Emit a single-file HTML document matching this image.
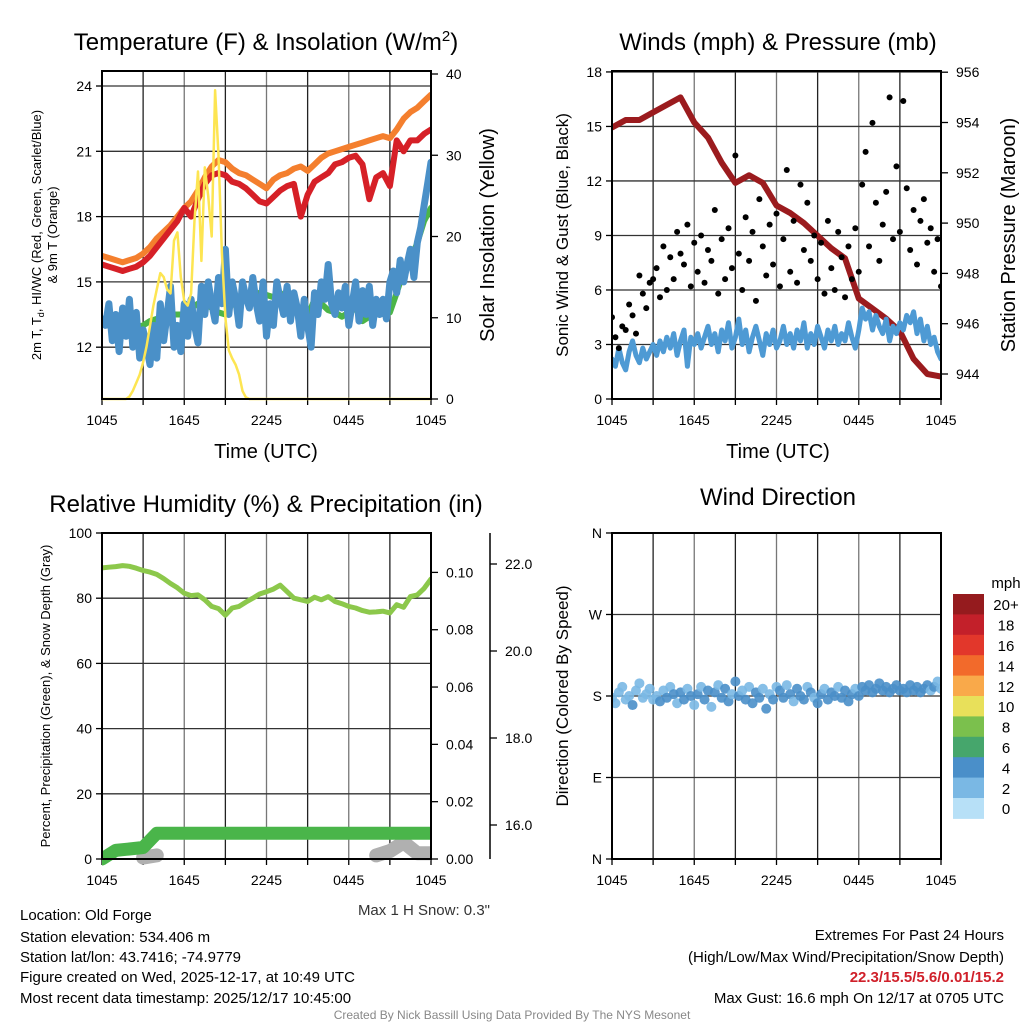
<!DOCTYPE html>
<html><head><meta charset="utf-8"><style>
html,body{margin:0;padding:0;background:#fff;}
svg{display:block;font-family:"Liberation Sans",sans-serif;}
</style></head><body>
<svg id="c" width="1024" height="1024" viewBox="0 0 1024 1024" xmlns="http://www.w3.org/2000/svg">
<defs>
<clipPath id="cp1"><rect x="102" y="71" width="329" height="331"/></clipPath>
<clipPath id="cp2"><rect x="612" y="71" width="329" height="328"/></clipPath>
<clipPath id="cp3"><rect x="102" y="533" width="329" height="336"/></clipPath>
<clipPath id="cp4"><rect x="612" y="533" width="329" height="326"/></clipPath>
</defs>
<g font-size="24" text-anchor="middle" fill="#000">
<text x="266" y="50">Temperature (F) &amp; Insolation (W/m<tspan dy="-9" font-size="15">2</tspan><tspan dy="9">)</tspan></text>
<text x="778" y="50">Winds (mph) &amp; Pressure (mb)</text>
<text x="266" y="512">Relative Humidity (%) &amp; Precipitation (in)</text>
<text x="778" y="505">Wind Direction</text>
</g>
<g font-size="20" text-anchor="middle">
<text x="266" y="458">Time (UTC)</text>
<text x="778" y="458">Time (UTC)</text>
<text transform="translate(494,235) rotate(-90)">Solar Insolation (Yellow)</text>
<text transform="translate(1015,235) rotate(-90)">Station Pressure (Maroon)</text>
</g>
<g font-size="13" text-anchor="middle">
<text transform="translate(41,235) rotate(-90)">2m T, T<tspan dy="3" font-size="9">d</tspan><tspan dy="-3">, HI/WC (Red, Green, Scarlet/Blue)</tspan></text>
<text transform="translate(57,235) rotate(-90)">&amp; 9m T (Orange)</text>
<text transform="translate(50,696) rotate(-90)">Percent, Precipitation (Green), &amp; Snow Depth (Gray)</text>
</g>
<g font-size="17" text-anchor="middle">
<text transform="translate(568,235) rotate(-90)">Sonic Wind &amp; Gust (Blue, Black)</text>
<text transform="translate(568,696) rotate(-90)">Direction (Colored By Speed)</text>
</g>
<g id="layer"></g>
<g font-size="15" fill="#000">
<text x="490" y="915" text-anchor="end" fill="#333">Max 1 H Snow: 0.3"</text>
<text x="20" y="920">Location: Old Forge</text>
<text x="20" y="942">Station elevation: 534.406 m</text>
<text x="20" y="962">Station lat/lon: 43.7416; -74.9779</text>
<text x="20" y="982">Figure created on Wed, 2025-12-17, at 10:49 UTC</text>
<text x="20" y="1003">Most recent data timestamp: 2025/12/17 10:45:00</text>
<text x="1004" y="940" text-anchor="end">Extremes For Past 24 Hours</text>
<text x="1004" y="962" text-anchor="end">(High/Low/Max Wind/Precipitation/Snow Depth)</text>
<text x="1004" y="982" text-anchor="end" fill="#d0202a" font-weight="bold">22.3/15.5/5.6/0.01/15.2</text>
<text x="1004" y="1003" text-anchor="end">Max Gust: 16.6 mph On 12/17 at 0705 UTC</text>
<text x="512" y="1019" text-anchor="middle" font-size="12" fill="#888">Created By Nick Bassill Using Data Provided By The NYS Mesonet</text>
</g>
</svg>
<script>
// ---- data ----
const xTickLabels = ["1045","1645","2245","0445","1045"];
const temp9m = [16.2,16.1,16.0,15.9,16.0,16.1,16.3,16.6,17.0,17.3,17.6,18.0,18.4,18.7,19.2,19.8,20.3,20.6,20.5,20.2,20.0,19.9,19.7,19.5,19.3,19.7,19.9,20.0,20.2,20.3,20.1,20.4,20.7,20.9,21.0,21.1,21.2,21.3,21.4,21.5,21.6,21.7,21.6,22.0,22.5,22.8,23.0,23.3,23.6];
const temp2m = [15.8,15.7,15.6,15.5,15.6,15.7,15.9,16.2,16.6,17.0,17.4,17.8,18.4,18.0,18.8,19.5,19.9,20.0,19.9,19.6,19.5,19.3,19.0,18.7,18.6,18.9,19.2,19.4,19.5,18.0,19.0,19.6,19.8,20.0,20.4,20.5,20.7,20.8,20.4,18.8,19.8,20.0,19.4,21.5,21.0,21.5,21.5,21.8,22.0];
const dewPoint = [13.3,13.2,13.1,13.0,13.0,12.9,13.0,13.2,13.3,13.4,13.5,13.5,13.5,13.8,14.0,14.0,13.8,13.6,13.5,14.0,14.2,14.3,14.2,14.5,14.4,14.3,14.5,14.2,14.0,13.5,13.4,14.2,14.0,13.7,13.6,13.4,13.6,13.8,13.2,13.4,13.5,13.7,13.6,14.5,15.5,16.0,16.8,17.8,18.4];
const windChill = [13.3,13.0,14.0,12.3,13.5,11.8,13.8,12.5,14.2,12.0,13.6,11.5,12.8,
 12.0,11.2,13.0,11.5,14.0,12.3,13.5,14.8,12.0,13.0,11.8,14.0,
 12.5,14.2,13.0,12.2,14.8,13.5,15.0,14.0,13.2,15.2,14.0,16.5,
 13.5,15.0,14.2,13.0,15.0,14.3,13.8,15.2,14.0,13.2,15.0,12.5,
 14.0,13.0,15.0,14.2,13.5,14.8,13.2,14.5,13.8,12.5,14.2,13.0,
 12.0,14.5,13.5,15.0,14.2,15.8,14.0,13.5,14.5,13.8,14.8,13.0,
 14.0,15.0,13.2,14.6,13.5,14.8,13.0,14.2,13.5,14.2,13.3,15.0,
 15.5,14.5,16.0,15.0,15.8,16.5,15.2,16.8,17.5,18.5,19.5,20.5];
const insolation = [0,0,0,0,0,0,0,0,0.3,1,2,3,4.5,6.5,9,11.5,13.5,15.5,15,13.5,13,19.5,20.5,15,12,11.5,13,22,28,17,28.5,25,20,38,30,18,10,6,5,4.2,3,1,0.2,
 0,0,0,0,0,0,0,0,0,0,0,0,0,0,0,0,0,0,0,0,0,0,0,0,0,0,0,0,0,0,0,0,0,0,0,0,0,0,0,0,0,0,0,0,0,0,0,0,0,0,0,0,0,0,0];
const pressure = [953.8,954.1,954.1,954.4,954.7,955.0,954.0,953.4,952.4,951.6,951.9,951.6,950.7,950.4,950.0,949.5,949.0,948.6,947.0,946.6,946.2,945.7,944.6,944.0,943.9];
const windSpeed = [2.2,1.8,2.8,2.0,1.6,2.6,3.2,2.4,2.0,2.8,2.2,2.6,3.0,
 2.4,3.2,2.6,3.4,2.8,3.6,2.4,3.2,3.8,1.8,3.4,3.0,
 3.6,2.8,3.4,4.0,3.0,3.6,2.6,3.8,3.2,4.2,2.8,3.4,
 4.4,3.0,3.8,2.6,3.4,4.0,3.2,2.4,3.6,3.0,3.8,2.8,
 3.2,4.0,3.0,3.6,2.8,3.8,3.2,4.2,2.8,3.6,3.0,4.0,
 3.4,2.8,3.8,3.2,4.0,3.0,3.6,3.2,4.2,3.4,2.8,3.8,
 5.0,4.4,4.8,3.8,4.6,4.0,3.6,4.4,3.2,4.0,3.6,4.2,
 3.8,4.6,4.2,4.8,3.6,4.4,3.2,4.0,3.0,3.4,2.6,2.2];
const windGust = [4.5,3.4,2.8,4.0,3.8,5.2,4.6,3.6,6.8,5.8,5.0,6.4,6.6,
 7.2,5.6,8.4,6.0,7.8,6.6,9.2,8.0,7.4,9.6,6.2,8.6,
 7.0,9.0,6.4,8.2,7.6,10.4,5.8,8.8,6.6,9.4,7.2,13.4,
 8.0,6.0,10.0,7.6,9.2,5.4,11.0,8.4,6.8,9.6,7.4,10.2,
 6.2,8.8,12.6,7.0,9.8,6.4,11.8,8.2,10.8,7.6,9.0,6.6,
 8.6,5.8,9.8,7.2,6.0,9.2,7.8,5.6,8.4,6.6,9.4,7.0,
 11.8,13.6,8.4,15.2,10.8,7.6,9.6,11.4,16.6,8.8,12.8,9.2,
 16.4,11.6,8.2,10.4,7.4,9.8,11.0,8.6,9.4,7.0,8.8,6.2];
const humidity = [89.3,89.5,89.7,90.0,89.8,89.2,88.5,88.0,87.3,86.0,84.5,83.2,81.5,80.8,81.0,79.5,77.5,76.8,74.8,77.0,77.5,78.8,80.0,81.3,82.0,82.8,84.0,82.0,80.0,79.5,79.0,80.3,79.5,80.5,79.0,78.3,77.5,77.0,76.2,75.7,75.8,76.0,75.5,78.0,77.2,80.5,81.0,83.0,85.9];
const precipitation = [0,0.003,0.0035,0.004,0.009,0.009,0.009,0.009,0.009,0.009,0.009,0.009,0.009,0.009,0.009,0.009,0.009,0.009,0.009,0.009,0.009,0.009,0.009,0.009,0.009];
const snowDepth = [null,null,null,15.25,15.3,null,null,null,null,null,null,null,null,null,null,null,null,null,null,null,15.3,15.4,15.6,15.35,15.35];
const windDirection = [178,172,184,190,176,180,170,186,194,178,182,188,176,
 180,174,186,178,190,182,172,184,176,188,180,170,
 182,190,176,186,168,184,192,178,188,174,182,196,
 180,186,176,190,172,184,178,188,166,182,176,190,
 186,178,192,182,174,188,180,176,190,184,178,172,
 182,188,176,184,180,190,178,186,174,182,188,180,
 190,186,192,184,188,194,186,190,184,188,192,186,
 188,184,192,186,190,184,188,192,186,190,196,188];
const tempTicks = [12,15,18,21,24];
const insolTicks = [0,10,20,30,40];
const windTicks = [0,3,6,9,12,15,18];
const pressTicks = [944,946,948,950,952,954,956];
const rhTicks = [0,20,40,60,80,100];
const precipTicks = [0,0.02,0.04,0.06,0.08,0.10];
const snowTicks = [16,18,20,22];
const dirTicks = [0,90,180,270,360];
const dirLabels = ["N","E","S","W","N"];
const speedBins = ["0","2","4","6","8","10","12","14","16","18","20+"];
const speedColors = ["#b7e0f7","#7ab8e4","#4a8fc9","#46a66c","#7bc04d","#e8e05a","#f9a94a","#f26a2b","#e2372b","#c3202a","#951b1e"];

// ---- axes ----
const W = 329;
const X = (h, x0) => x0 + h / 24 * W;
const yT = v => 86 + (24 - v) * 65.3 / 3;
const yI = v => 399 - v * 8.125;
const yW = v => 399 - v * 18.17;
const yP = v => 374 - (v - 944) * 25.15;
const yR = v => 859 - v * 3.26;
const yPr = v => 859 - v * 2866;
const yS = v => 825 - (v - 16) * 43.5;
const yD = v => 859 - v * 0.9056;

const NS = "http://www.w3.org/2000/svg";
const layer = document.getElementById("layer");
function mk(tag, attrs, parent) {
  const e = document.createElementNS(NS, tag);
  for (const k in attrs) e.setAttribute(k, attrs[k]);
  (parent || layer).appendChild(e);
  return e;
}
function txt(x, y, s, size, anchor, parent) {
  const t = mk("text", {x: x, y: y, "font-size": size, "text-anchor": anchor}, parent);
  t.textContent = s;
  return t;
}
function linePath(vals, step, x0, yf) {
  let d = "", pen = false;
  vals.forEach((v, i) => {
    if (v === null) { pen = false; return; }
    d += (pen ? "L" : "M") + X(i * step, x0).toFixed(1) + "," + yf(v).toFixed(1);
    pen = true;
  });
  return d;
}

function frame(x0, y0, h, hLines, name) {
  const g = mk("g", {});
  
  
  for (let k = 1; k < 8; k++) {
    const l = mk("line", {x1: X(k*3, x0), x2: X(k*3, x0), y1: y0, y2: y0 + h, stroke: k % 2 ? "#222" : "#777", "stroke-width": 1.3}, g);
    
    
  }
  hLines.forEach(y => {
    const l = mk("line", {x1: x0, x2: x0 + W, y1: y, y2: y, stroke: "#333", "stroke-width": 1.3}, g);
    
    
  });
  for (let k = 0; k <= 8; k++) {
    const xx = X(k*3, x0);
    mk("line", {x1: xx, x2: xx, y1: y0 + h, y2: y0 + h + 6, stroke: "#000", "stroke-width": 1.3}, g);
  }
  xTickLabels.forEach((s, k) => {
    const t = txt(X(k*6, x0), y0 + h + 26, s, 14, "middle", g);
    
    
  });
  return g;
}
function border(x0, y0, h) {
  const r = mk("rect", {x: x0, y: y0, width: W, height: h, fill: "none", stroke: "#000", "stroke-width": 2});
  
  
}
function leftTicks(x0, ticks, yf, labels, fmt) {
  ticks.forEach((v, i) => {
    mk("line", {x1: x0 - 6, x2: x0, y1: yf(v), y2: yf(v), stroke: "#000", "stroke-width": 1.3});
    const t = txt(x0 - 10, yf(v) + 5, labels ? labels[i] : fmt(v), 14, "end");
    
    
  });
}
function rightTicks(xa, ticks, yf, fmt) {
  ticks.forEach(v => {
    mk("line", {x1: xa, x2: xa + 7, y1: yf(v), y2: yf(v), stroke: "#000", "stroke-width": 1.3});
    const t = txt(xa + 15, yf(v) + 5, fmt(v), 14, "start");
    
    
  });
}

// ---- Panel 1 ----
frame(102, 71, 328, tempTicks.map(yT), "temperature-panel");
{
  const g = mk("g", {"clip-path": "url(#cp1)", fill: "none", "stroke-linejoin": "round", "stroke-linecap": "round"});
  const p1 = mk("path", {d: linePath(temp9m, 0.5, 102, yT), stroke: "#f47f2e", "stroke-width": 6}, g);
   
  const p2 = mk("path", {d: linePath(temp2m, 0.5, 102, yT), stroke: "#d62027", "stroke-width": 6}, g);
   
  const p3 = mk("path", {d: linePath(dewPoint, 0.5, 102, yT), stroke: "#4cb548", "stroke-width": 6}, g);
   
  const p4 = mk("path", {d: linePath(windChill, 0.25, 102, yT), stroke: "#4a90c8", "stroke-width": 7}, g);
   
  const p5 = mk("path", {d: linePath(insolation, 0.25, 102, yI), stroke: "#fde552", "stroke-width": 2.5}, g);
   
}
border(102, 71, 328);
leftTicks(102, tempTicks, yT, null, v => String(v));
rightTicks(431, insolTicks, yI, v => String(v));

// ---- Panel 2 ----
frame(612, 71, 328, windTicks.map(yW), "winds-panel");
{
  const g = mk("g", {"clip-path": "url(#cp2)", fill: "none", "stroke-linejoin": "round", "stroke-linecap": "round"});
  const p1 = mk("path", {d: linePath(pressure, 1, 612, yP), stroke: "#9b1b1e", "stroke-width": 6}, g);
   
  const p2 = mk("path", {d: linePath(windSpeed, 0.25, 612, yW), stroke: "#4e9ad4", "stroke-width": 5}, g);
   
  windGust.forEach((v, i) => {
    const c = mk("circle", {cx: X(i * 0.25, 612), cy: yW(v), r: 3, fill: "#000"}, g);
    
    
  });
}
border(612, 71, 328);
leftTicks(612, windTicks, yW, null, v => String(v));
rightTicks(941, pressTicks, yP, v => String(v));

// ---- Panel 3 ----
frame(102, 533, 326, rhTicks.filter(v => v > 0 && v < 100).map(yR), "humidity-panel");
{
  const g = mk("g", {"clip-path": "url(#cp3)", fill: "none", "stroke-linejoin": "round", "stroke-linecap": "round"});
  const p0 = mk("path", {d: linePath(snowDepth, 1, 102, yS), stroke: "#b0b0b0", "stroke-width": 14}, g);
   
  const p1 = mk("path", {d: linePath(precipitation, 1, 102, yPr), stroke: "#4ab54a", "stroke-width": 13}, g);
   
  const p2 = mk("path", {d: linePath(humidity, 0.5, 102, yR), stroke: "#8cc84b", "stroke-width": 5}, g);
   
}
border(102, 533, 326);
leftTicks(102, rhTicks, yR, null, v => String(v));
rightTicks(431, precipTicks, yPr, v => v.toFixed(2));
mk("line", {x1: 490, x2: 490, y1: 533, y2: 859, stroke: "#000", "stroke-width": 1.5});
snowTicks.forEach(v => {
  mk("line", {x1: 490, x2: 497, y1: yS(v), y2: yS(v), stroke: "#000", "stroke-width": 1.3});
  const t = txt(505, yS(v) + 5, v.toFixed(1), 14, "start");
  
  
});

// ---- Panel 4 ----
frame(612, 533, 326, dirTicks.filter(v => v > 0 && v < 360).map(yD), "direction-panel");
{
  const g = mk("g", {"clip-path": "url(#cp4)"});
  windDirection.forEach((v, i) => {
    const bin = Math.min(10, Math.floor(windSpeed[i] / 2 + 0.4));
    const c = mk("circle", {cx: X(i * 0.25, 612), cy: yD(v), r: 5, fill: speedColors[bin], "fill-opacity": 0.9}, g);
    
    
  });
}
border(612, 533, 326);
leftTicks(612, dirTicks, yD, dirLabels, null);
{
  const g = mk("g", {});
  
  
  const t0 = txt(1006, 588, "mph", 15, "middle", g);
  
  
  const bh = 20.4;
  speedBins.slice().reverse().forEach((s, k) => {
    const idx = speedBins.length - 1 - k;
    const r = mk("rect", {x: 953, y: 594 + k * bh, width: 31, height: bh + 0.5, fill: speedColors[idx]}, g);
    
    
    const t = txt(1006, 594 + k * bh + bh / 2 + 6, s, 15, "middle", g);
    
    
  });
}
</script>
</body></html>
